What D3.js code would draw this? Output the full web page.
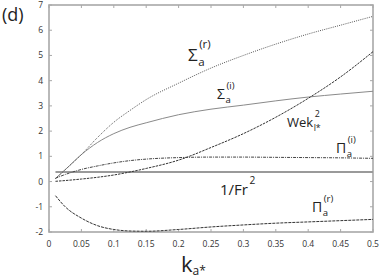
<!DOCTYPE html>
<html><head><meta charset="utf-8">
<script src="https://cdn.jsdelivr.net/npm/d3@7"></script>
<style>body{margin:0;background:#fff}svg{display:block}</style>
</head><body>
<script>
const kVals   = [0.01,0.025,0.05,0.075,0.1,0.125,0.15,0.2,0.25,0.3,0.35,0.4,0.45,0.5];
const sigmaR  = [0.12,0.47,1.07,1.75,2.35,2.82,3.25,3.9,4.5,5.0,5.45,5.85,6.2,6.55];
const sigmaI  = [0.12,0.47,1.07,1.55,1.9,2.15,2.33,2.65,2.87,3.03,3.2,3.35,3.47,3.58];
const wek     = [0.01,0.04,0.1,0.17,0.26,0.38,0.52,0.85,1.35,1.9,2.55,3.3,4.15,5.15];
const piI     = [0.13,0.28,0.48,0.62,0.74,0.83,0.89,0.95,0.97,0.97,0.96,0.95,0.94,0.92];
const piR     = [-0.56,-1.0,-1.45,-1.75,-1.9,-1.96,-1.97,-1.9,-1.8,-1.72,-1.65,-1.6,-1.55,-1.5];
const froudeK = [0.01,0.5];
const froude  = [0.38,0.38];
const xTicks  = [0,0.05,0.1,0.15,0.2,0.25,0.3,0.35,0.4,0.45,0.5];
const yTicks  = [-2,-1,0,1,2,3,4,5,6,7];

const W=382,H=279;
const svg=d3.select("body").append("svg").attr("width",W).attr("height",H)
  .style("font-family","'Open Sans','DejaVu Sans',sans-serif");
const x=d3.scaleLinear().domain([0,0.5]).range([49,373]);
const y=d3.scaleLinear().domain([-2,7]).range([232,5]);
const axCol="#a8a8a8";

const tg=svg.append("g").attr("stroke",axCol).attr("stroke-width",1);
xTicks.forEach(t=>{
  tg.append("line").attr("x1",x(t)).attr("x2",x(t)).attr("y1",232).attr("y2",229);
  tg.append("line").attr("x1",x(t)).attr("x2",x(t)).attr("y1",5).attr("y2",8);
});
yTicks.forEach(t=>{
  tg.append("line").attr("x1",49).attr("x2",52).attr("y1",y(t)).attr("y2",y(t));
  tg.append("line").attr("x1",373).attr("x2",370).attr("y1",y(t)).attr("y2",y(t));
});
svg.append("rect").attr("x",49).attr("y",5).attr("width",324).attr("height",227)
  .attr("fill","none").attr("stroke",axCol).attr("stroke-width",1.6);

svg.append("g").selectAll("text").data(xTicks).join("text")
  .attr("x",d=>x(d)).attr("y",247).attr("text-anchor","middle")
  .attr("font-size",8.5).attr("fill","#333").text(d=>d===0?"0":String(d));
svg.append("g").selectAll("text").data(yTicks).join("text")
  .attr("x",43).attr("y",d=>y(d)+3).attr("text-anchor","end")
  .attr("font-size",8.5).attr("fill","#333").text(d=>d);

const line=d3.line().x(d=>x(d[0])).y(d=>y(d[1])).curve(d3.curveMonotoneX);
function draw(ks,vs,color,width,dash){
  svg.append("path").attr("d",line(ks.map((k,i)=>[k,vs[i]])))
    .attr("fill","none").attr("stroke",color).attr("stroke-width",width)
    .attr("stroke-dasharray",dash||null);
}
draw(froudeK,froude,"#9a9a9a",2);
draw(kVals,sigmaI,"#8a8a8a",1);
draw(kVals,sigmaR,"#555",1,"1,1.2");
draw(kVals,wek,"#333",1,"2.5,1");
draw(kVals,piI,"#444",1,"3,1,1,1");
draw(kVals,piR,"#333",1,"3,1");

function lab(xp,yp,main,sub,sup,fs){
  const t=svg.append("text").attr("x",xp).attr("y",yp).attr("font-size",fs).attr("fill","#222");
  const m=t.append("tspan").text(main);
  const mw=m.node().getComputedTextLength();
  const up=fs*0.74, dn=fs*0.3, ss=fs*0.68;
  if(sup){ t.append("tspan").attr("x",xp+mw+1.5).attr("y",yp-up).attr("font-size",ss).text(sup);}
  if(sub){ t.append("tspan").attr("x",xp+mw+0.5).attr("y",yp+dn).attr("font-size",ss).text(sub);}
}
lab(188,61,"Σ","a","(r)",17);
lab(217,99,"Σ","a","(i)",14);
lab(287,127,"Wek","l*","2",13);
lab(336,153,"Π","a","(i)",14);
lab(312,212,"Π","a","(r)",14);
lab(220,195,"1/Fr","","2",15);
const kl=svg.append("text").attr("x",181).attr("y",272).attr("fill","#222");
kl.append("tspan").attr("font-size",22).text("k");
kl.append("tspan").attr("font-size",12).attr("dy",3).text("a*");
svg.append("text").attr("x",2).attr("y",21).attr("font-size",18).attr("fill","#222").text("(d)");
</script>
</body></html>
